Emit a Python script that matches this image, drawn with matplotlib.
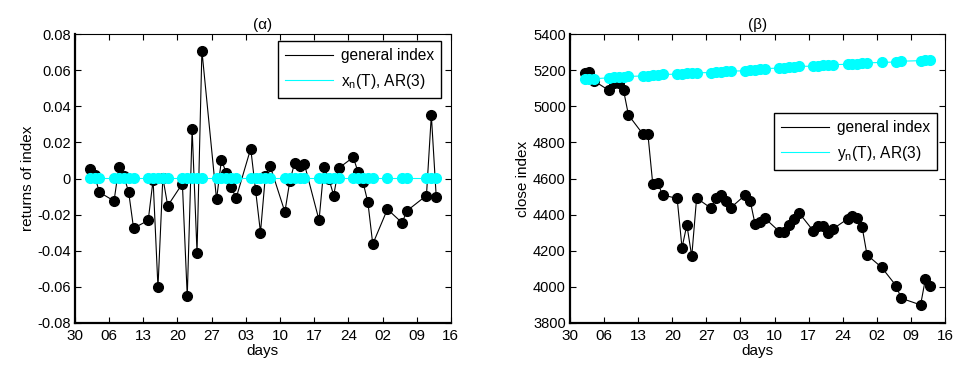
import numpy as np
import pandas as pd
import matplotlib
matplotlib.use('Agg')
import matplotlib.pyplot as plt
import matplotlib.dates as mdates
from matplotlib.lines import Line2D

plt.rcParams['font.family'] = ['Liberation Sans', 'DejaVu Sans']

# trading days shown in both panels
dates = ['2008-01-02', '2008-01-03', '2008-01-04',
         '2008-01-07', '2008-01-08', '2008-01-09', '2008-01-10', '2008-01-11',
         '2008-01-14', '2008-01-15', '2008-01-16', '2008-01-17', '2008-01-18',
         '2008-01-21', '2008-01-22', '2008-01-23', '2008-01-24', '2008-01-25',
         '2008-01-28', '2008-01-29', '2008-01-30', '2008-01-31', '2008-02-01',
         '2008-02-04', '2008-02-05', '2008-02-06', '2008-02-07', '2008-02-08',
         '2008-02-11', '2008-02-12', '2008-02-13', '2008-02-14', '2008-02-15',
         '2008-02-18', '2008-02-19', '2008-02-20', '2008-02-21', '2008-02-22',
         '2008-02-25', '2008-02-26', '2008-02-27', '2008-02-28', '2008-02-29',
         '2008-03-03', '2008-03-06', '2008-03-07',
         '2008-03-11', '2008-03-12', '2008-03-13']

returns = [0.0055, 0.0018, -0.0076,
           -0.0124, 0.0063, 0.0015, -0.0076, -0.0275,
           -0.0232, -0.0008, -0.0603, 0.0005, -0.0151,
           -0.0028, -0.0653, 0.0275, -0.0411, 0.0708,
           -0.0116, 0.0103, 0.0030, -0.0046, -0.0109,
           0.0166, -0.0066, -0.0299, 0.0015, 0.0068,
           -0.0185, -0.0015, 0.0087, 0.0072, 0.0080,
           -0.0231, 0.0063, 0.0000, -0.0094, 0.0057,
           0.0118, 0.0035, -0.0020, -0.0131, -0.0363,
           -0.0170, -0.0245, -0.0179,
           -0.0094, 0.0352, -0.0101]

returns_ar = [0.0003, 0.0003, 0.0003,
              0.0003, 0.0003, 0.0003, 0.0003, 0.0003,
              0.0003, 0.0003, 0.0003, 0.0003, 0.0003,
              0.0003, 0.0003, 0.0003, 0.0003, 0.0003,
              0.0003, 0.0003, 0.0003, 0.0003, 0.0003,
              0.0003, 0.0003, 0.0003, 0.0003, 0.0003,
              0.0003, 0.0003, 0.0003, 0.0003, 0.0003,
              0.0003, 0.0003, 0.0003, 0.0003, 0.0003,
              0.0003, 0.0003, 0.0003, 0.0003, 0.0003,
              0.0003, 0.0003, 0.0003,
              0.0003, 0.0003, 0.0003]

close = [5182, 5188, 5140,
         5088, 5127, 5127, 5088, 4952,
         4845, 4845, 4568, 4577, 4509,
         4490, 4217, 4343, 4169, 4492,
         4435, 4490, 4509, 4475, 4438,
         4509, 4477, 4348, 4357, 4381,
         4306, 4306, 4343, 4376, 4411,
         4309, 4339, 4339, 4297, 4321,
         4376, 4394, 4381, 4330, 4177,
         4108, 4005, 3937,
         3900, 4045, 4005]

close_ar = [5150, 5152, 5153,
            5158, 5160, 5162, 5164, 5166,
            5168, 5170, 5172, 5175, 5177,
            5178, 5180, 5182, 5184, 5186,
            5187, 5189, 5191, 5193, 5195,
            5197, 5200, 5203, 5206, 5209,
            5212, 5214, 5217, 5219, 5222,
            5222, 5224, 5227, 5229, 5231,
            5233, 5235, 5237, 5239, 5241,
            5243, 5246, 5250,
            5253, 5256, 5259]

x = pd.to_datetime(dates)
xlim = (pd.Timestamp('2007-12-30'), pd.Timestamp('2008-03-16'))
xticks = pd.date_range('2007-12-30', '2008-03-16', freq='7D')

fig = plt.figure(figsize=(9.54, 3.67), dpi=100)
ax1 = fig.add_axes([0.0786, 0.120, 0.394, 0.787])
ax2 = fig.add_axes([0.5975, 0.120, 0.393, 0.787])


def style_axes(ax):
    ax.set_xlim(*xlim)
    ax.set_xticks(xticks)
    ax.xaxis.set_major_formatter(mdates.DateFormatter('%d'))
    ax.tick_params(direction='in', top=True, right=True, length=4,
                   width=0.8)
    ax.tick_params(axis='x', labelsize=11, pad=4)
    ax.tick_params(axis='y', labelsize=10.5, pad=3)
    ax.spines['left'].set_linewidth(1.6)
    ax.spines['bottom'].set_linewidth(1.6)
    ax.spines['top'].set_linewidth(0.8)
    ax.spines['right'].set_linewidth(0.8)
    ax.set_xlabel('days', fontsize=11, labelpad=1)


def add_legend(ax, label, anchor):
    handles = [Line2D([], [], color='black', lw=0.8),
               Line2D([], [], color='cyan', lw=0.8)]
    ax.legend(handles, ['general index', label], loc='upper right',
              bbox_to_anchor=anchor, borderaxespad=0, fontsize=11.2,
              fancybox=False, framealpha=1, edgecolor='black',
              handlelength=3.1, handletextpad=0.5, borderpad=0.45,
              labelspacing=0.55)


# (α) returns
ax1.plot(x, returns, '-', color='black', lw=0.8, marker='o', ms=7,
         mfc='black', mec='black', zorder=3)
ax1.plot(x, returns_ar, '-', color='cyan', lw=0.8, marker='o', ms=7,
         mfc='cyan', mec='cyan', zorder=4)
style_axes(ax1)
ax1.set_ylim(-0.08, 0.08)
ax1.set_yticks(np.arange(-0.08, 0.0801, 0.02))
ax1.set_yticklabels(['-0.08', '-0.06', '-0.04', '-0.02', '0',
                     '0.02', '0.04', '0.06', '0.08'])
ax1.set_ylabel('returns of index', fontsize=11, labelpad=2)
ax1.set_title('(α)', fontsize=11, pad=4)
add_legend(ax1, 'x$_\\mathregular{n}$(T), AR(3)', (0.973, 0.976))

# (β) close index
ax2.plot(x, close, '-', color='black', lw=0.8, marker='o', ms=7,
         mfc='black', mec='black', zorder=3)
ax2.plot(x, close_ar, '-', color='cyan', lw=0.8, marker='o', ms=7,
         mfc='cyan', mec='cyan', zorder=4)
style_axes(ax2)
ax2.set_ylim(3800, 5400)
ax2.set_yticks(np.arange(3800, 5401, 200))
ax2.set_ylabel('close index', fontsize=11, labelpad=2)
ax2.set_title('(β)', fontsize=11, pad=4)
add_legend(ax2, 'y$_\\mathregular{n}$(T), AR(3)', (0.979, 0.727))

fig.savefig('out.png', dpi=100)
